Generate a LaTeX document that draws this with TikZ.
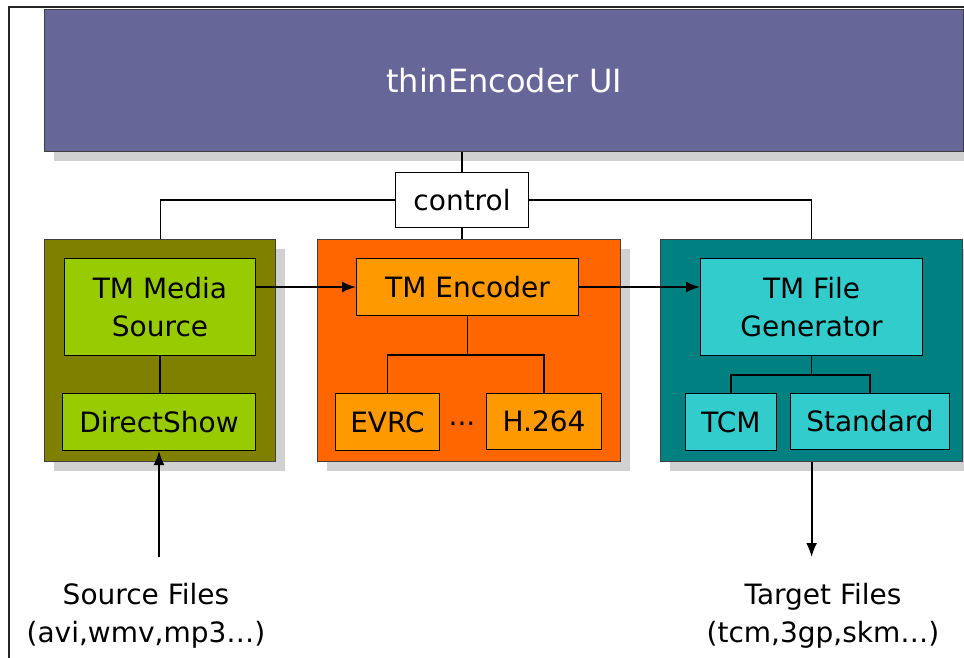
\documentclass[tikz,border=0pt]{standalone}
\usepackage{fontspec}
\setmainfont{DejaVu Sans}
\usetikzlibrary{arrows.meta,shadows}

\definecolor{uiblue}{RGB}{102,102,153}
\definecolor{srcolive}{RGB}{128,128,0}
\definecolor{srcgreen}{RGB}{153,204,0}
\definecolor{encorange}{RGB}{255,102,0}
\definecolor{encamber}{RGB}{255,153,0}
\definecolor{genteal}{RGB}{0,128,128}
\definecolor{gencyan}{RGB}{51,204,204}

\tikzset{
    panel/.style={draw=black!75, line width=1.2pt, anchor=north west, inner sep=0pt,
        drop shadow={shadow xshift=9pt, shadow yshift=-9pt, fill=black!18, opacity=1}},
    module/.style={draw=black, line width=1pt, anchor=north west, inner sep=0pt,
        align=center, font=\fontsize{28}{38}\selectfont},
    wire/.style={draw=black, line width=1.2pt},
    flow/.style={wire, line width=1.8pt, -{Latex[length=14pt,width=11pt]}}
}

\begin{document}
\begin{tikzpicture}[x=1pt,y=-1pt]
    \useasboundingbox (0,0) rectangle (964,658);

    % outer frame
    \draw[line width=1.5pt, black!85] (9,658) -- (9,7) -- (964,7);

    % user interface
    \node[panel, fill=uiblue, minimum width=919pt, minimum height=142pt,
          text=white, font=\fontsize{32}{38}\selectfont] (ui) at (44,9) {thinEncoder UI};

    \node[module, fill=white, minimum width=133pt, minimum height=55pt] (ctrl) at (395,172) {control};

    % the three stages
    \node[panel, fill=srcolive,  minimum width=231pt, minimum height=222pt] (olive)  at (44,239) {};
    \node[panel, fill=encorange, minimum width=303pt, minimum height=222pt] (orange) at (317,239) {};
    \node[panel, fill=genteal,   minimum width=302pt, minimum height=222pt] (teal)   at (660,239) {};

    \node[module, fill=srcgreen, minimum width=191pt, minimum height=97pt] (media)  at (64,258) {TM Media\\Source};
    \node[module, fill=srcgreen, minimum width=193pt, minimum height=57pt] (direct) at (62,393) {DirectShow};

    \node[module, fill=encamber, minimum width=222pt, minimum height=57pt] (enc)  at (356,258) {TM Encoder};
    \node[module, fill=encamber, minimum width=104pt, minimum height=57pt] (evrc) at (335,393) {EVRC};
    \node[module, fill=encamber, minimum width=115pt, minimum height=56pt] (h264) at (486,393) {H.264};
    \node[font=\fontsize{28}{38}\selectfont] (dots) at (462,428) {···};

    \node[module, fill=gencyan, minimum width=222pt, minimum height=97pt] (gen) at (700,258) {TM File\\Generator};
    \node[module, fill=gencyan, minimum width=91pt,  minimum height=57pt] (tcm) at (685,393) {TCM};
    \node[module, fill=gencyan, minimum width=159pt, minimum height=56pt] (std) at (790,393) {Standard};

    % files
    \node[anchor=north, align=center, inner sep=3pt, font=\fontsize{28}{38}\selectfont] (src) at (146,580) {Source Files\\(avi,wmv,mp3…)};
    \node[anchor=north, align=center, inner sep=3pt, font=\fontsize{28}{38}\selectfont] (tgt) at (823,580) {Target Files\\(tcm,3gp,skm…)};

    % control lines
    \draw[wire] (ui.south -| ctrl.north) -- (ctrl.north);
    \draw[wire] (ctrl.south) -- (ctrl.south |- orange.north);
    \draw[wire] (ctrl.west) -| (olive.north);
    \draw[wire] (ctrl.east) -| (teal.north);

    % inner trees
    \draw[wire] (media.south) -- (media.south |- direct.north);
    \draw[wire] (enc.south) -- ++(0,39) coordinate (encfork);
    \draw[wire] (encfork) -| (evrc.north);
    \draw[wire] (encfork) -| (h264.north);
    \draw[wire] (gen.south) -- ++(0,19) coordinate (genfork);
    \draw[wire] (genfork) -| (tcm.north);
    \draw[wire] (genfork) -| (std.north);

    % data flow
    \draw[flow] (media.east |- enc.west) -- (enc.west);
    \draw[flow] (enc.east) -- (gen.west |- enc.east);
    \draw[flow] ([yshift=23pt]src.north -| direct.south) -- (direct.south);
    \draw[flow] (teal.south) -- ([yshift=23pt]tgt.north -| teal.south);

\end{tikzpicture}
\end{document}
